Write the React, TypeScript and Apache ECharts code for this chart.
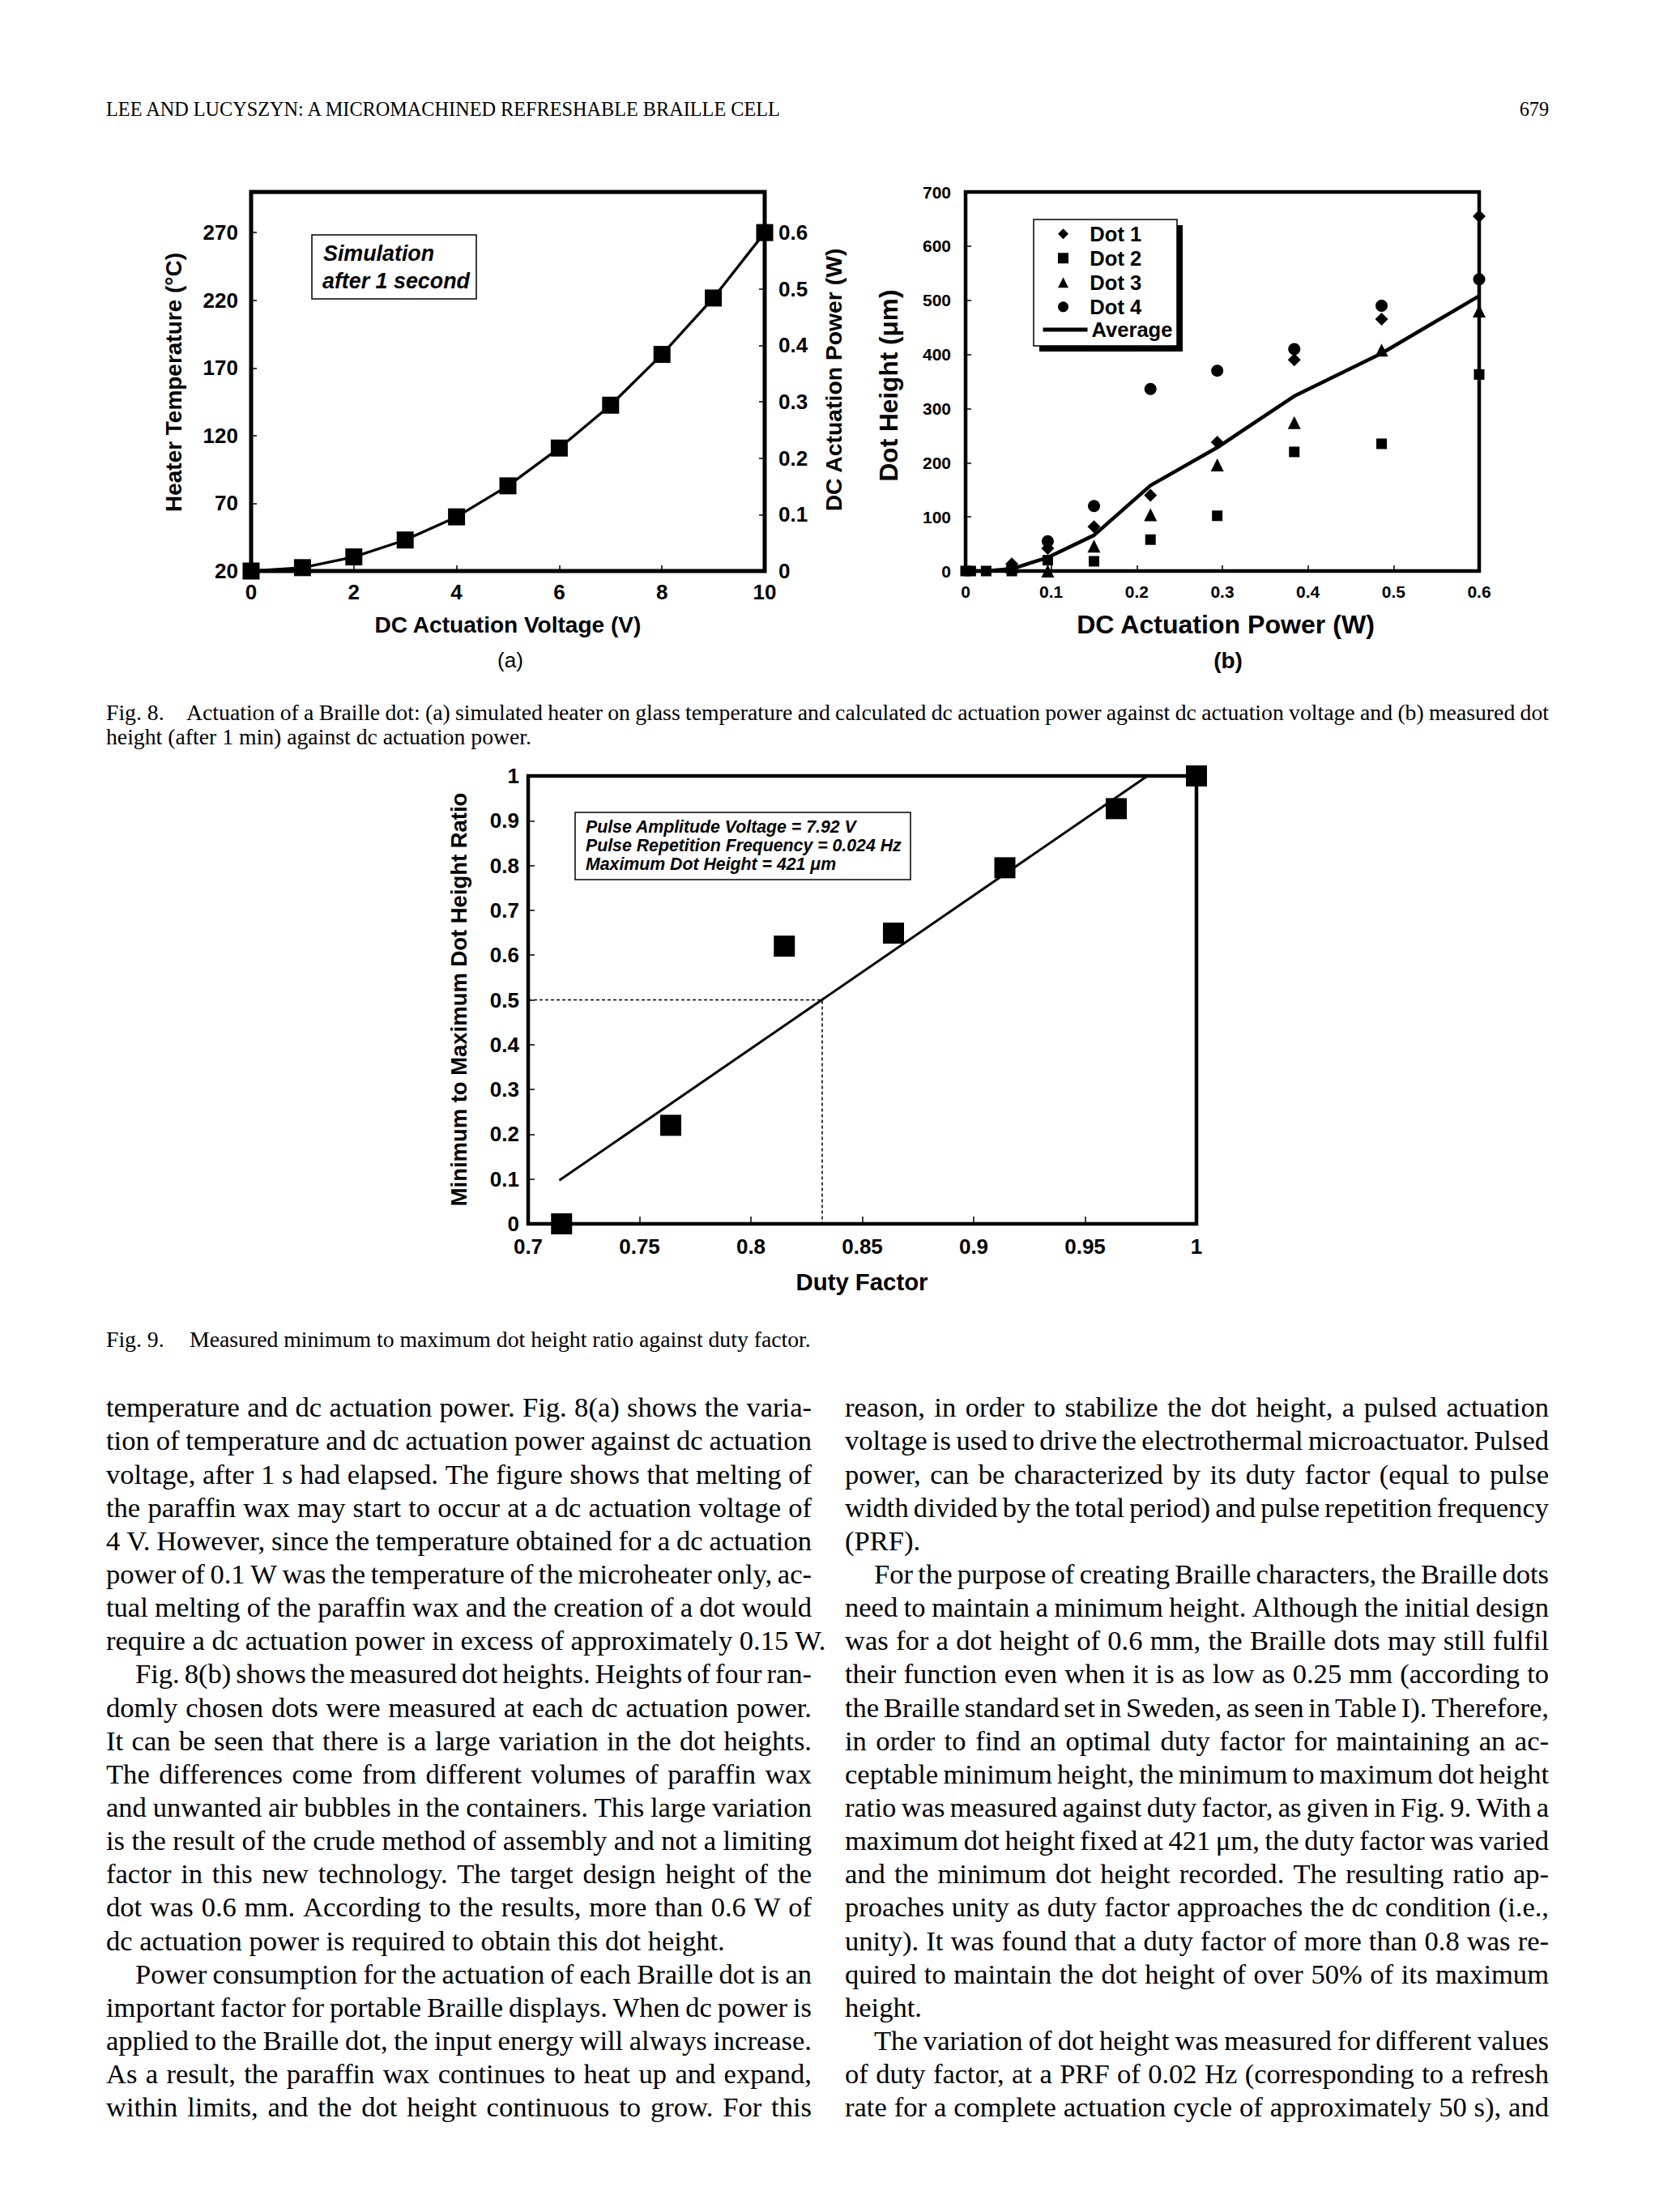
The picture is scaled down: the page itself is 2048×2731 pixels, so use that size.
import React, { useEffect, useRef } from 'react';
import * as echarts from 'echarts';

const SANS = '"Liberation Sans", Arial, Helvetica, sans-serif';
const SERIF = '"Liberation Serif", "Times New Roman", Times, serif';

// ---------- Fig. 8(a): simulated temperature / dc power vs dc voltage ----------
const voltageV = [0, 1, 2, 3, 4, 5, 6, 7, 8, 9, 10];
const powerW = [0, 0.006, 0.025, 0.055, 0.096, 0.151, 0.218, 0.294, 0.384, 0.484, 0.6];
const tempTicks = [20, 70, 120, 170, 220, 270];
const tempAxisRange = [20, 300];
const powerTicks = [0, 0.1, 0.2, 0.3, 0.4, 0.5, 0.6];
const powerAxisRange = [0, 0.672];

// ---------- Fig. 8(b): measured dot height vs dc power ----------
const dotPowerW = [0, 0.006, 0.024, 0.054, 0.096, 0.15, 0.216, 0.294, 0.384, 0.486, 0.6];
const dot1 = [null, null, null, 13, 42, 82, 140, 238, 390, 465, 655];
const dot2 = [0, 0, 0, 0, 20, 18, 58, 102, 220, 235, 363];
const dot3 = [null, null, null, 8, 0, 46, 104, 196, 274, 408, 480];
const dot4 = [null, null, null, 5, 55, 120, 336, 370, 410, 490, 539];
const dotAverage = [0, 0, 0, 4, 25, 66, 158, 228, 323, 402, 508];
const dotNames = ['Dot 1', 'Dot 2', 'Dot 3', 'Dot 4'];

// ---------- Fig. 9: min/max dot height ratio vs duty factor ----------
const dutyFactor = [0.715, 0.764, 0.815, 0.864, 0.914, 0.964, 1.0];
const heightRatio = [0, 0.22, 0.62, 0.649, 0.795, 0.927, 1.0];
const fitLineDuty = [0.714, 0.978];
const fitLineRatio = [0.097, 1.0];
const halfRatioDuty = 0.832;

// ---------- page text ----------
const headerTitle = 'LEE AND LUCYSZYN: A MICROMACHINED REFRESHABLE BRAILLE CELL';
const pageNumber = '679';
const fig8Label = 'Fig. 8.';
const fig8Caption = [
  'Actuation of a Braille dot: (a) simulated heater on glass temperature and calculated dc actuation power against dc actuation voltage and (b) measured dot',
  'height (after 1 min) against dc actuation power.',
];
const fig9Label = 'Fig. 9.';
const fig9Caption = 'Measured minimum to maximum dot height ratio against duty factor.';

// mode: 0 justified, 1 indented + justified, 2 ragged (paragraph end)
const leftColumn: [string, number][] = [
  ['temperature and dc actuation power. Fig. 8(a) shows the varia-', 0],
  ['tion of temperature and dc actuation power against dc actuation', 0],
  ['voltage, after 1 s had elapsed. The figure shows that melting of', 0],
  ['the paraffin wax may start to occur at a dc actuation voltage of', 0],
  ['4 V. However, since the temperature obtained for a dc actuation', 0],
  ['power of 0.1 W was the temperature of the microheater only, ac-', 0],
  ['tual melting of the paraffin wax and the creation of a dot would', 0],
  ['require a dc actuation power in excess of approximately 0.15 W.', 2],
  ['Fig. 8(b) shows the measured dot heights. Heights of four ran-', 1],
  ['domly chosen dots were measured at each dc actuation power.', 0],
  ['It can be seen that there is a large variation in the dot heights.', 0],
  ['The differences come from different volumes of paraffin wax', 0],
  ['and unwanted air bubbles in the containers. This large variation', 0],
  ['is the result of the crude method of assembly and not a limiting', 0],
  ['factor in this new technology. The target design height of the', 0],
  ['dot was 0.6 mm. According to the results, more than 0.6 W of', 0],
  ['dc actuation power is required to obtain this dot height.', 2],
  ['Power consumption for the actuation of each Braille dot is an', 1],
  ['important factor for portable Braille displays. When dc power is', 0],
  ['applied to the Braille dot, the input energy will always increase.', 0],
  ['As a result, the paraffin wax continues to heat up and expand,', 0],
  ['within limits, and the dot height continuous to grow. For this', 0],
];
const rightColumn: [string, number][] = [
  ['reason, in order to stabilize the dot height, a pulsed actuation', 0],
  ['voltage is used to drive the electrothermal microactuator. Pulsed', 0],
  ['power, can be characterized by its duty factor (equal to pulse', 0],
  ['width divided by the total period) and pulse repetition frequency', 0],
  ['(PRF).', 2],
  ['For the purpose of creating Braille characters, the Braille dots', 1],
  ['need to maintain a minimum height. Although the initial design', 0],
  ['was for a dot height of 0.6 mm, the Braille dots may still fulfil', 0],
  ['their function even when it is as low as 0.25 mm (according to', 0],
  ['the Braille standard set in Sweden, as seen in Table I). Therefore,', 0],
  ['in order to find an optimal duty factor for maintaining an ac-', 0],
  ['ceptable minimum height, the minimum to maximum dot height', 0],
  ['ratio was measured against duty factor, as given in Fig. 9. With a', 0],
  ['maximum dot height fixed at 421 μm, the duty factor was varied', 0],
  ['and the minimum dot height recorded. The resulting ratio ap-', 0],
  ['proaches unity as duty factor approaches the dc condition (i.e.,', 0],
  ['unity). It was found that a duty factor of more than 0.8 was re-', 0],
  ['quired to maintain the dot height of over 50% of its maximum', 0],
  ['height.', 2],
  ['The variation of dot height was measured for different values', 1],
  ['of duty factor, at a PRF of 0.02 Hz (corresponding to a refresh', 0],
  ['rate for a complete actuation cycle of approximately 50 s), and', 0],
];

function zip(xs: number[], ys: (number | null)[]) {
  const out: number[][] = [];
  xs.forEach((x, i) => {
    const y = ys[i];
    if (y !== null && y !== undefined) out.push([x, y]);
  });
  return out;
}

const canvas = typeof document !== 'undefined' ? document.createElement('canvas') : null;
const ctx = canvas ? canvas.getContext('2d') : null;
function measure(t: string, size: number, family: string, weight = 'normal', fstyle = 'normal') {
  if (!ctx) return t.length * size * 0.5;
  ctx.font = `${fstyle} ${weight} ${size}px ${family}`;
  return ctx.measureText(t).width;
}
function fitSize(t: string, target: number, base: number, family: string, weight = 'normal', fstyle = 'normal') {
  const w = measure(t, base, family, weight, fstyle);
  const s = w > 0 ? (base * target) / w : base;
  return Math.max(base * 0.8, Math.min(base * 1.25, s));
}

const K_SERIF = 0.3375;

function serifText(text: string, x: number, baseline: number, size: number, align = 'left') {
  return {
    type: 'text',
    x,
    y: baseline - K_SERIF * size,
    z: 1,
    silent: true,
    style: {
      text,
      fontFamily: SERIF,
      fontSize: size,
      fill: '#000',
      textAlign: align,
      align,
      textVerticalAlign: 'middle',
      verticalAlign: 'middle',
    },
  };
}

function sansText(
  text: string,
  x: number,
  y: number,
  size: number,
  opts: { weight?: string; italic?: boolean; align?: string; rotate?: boolean; z?: number } = {}
) {
  const align = opts.align || 'center';
  return {
    type: 'text',
    x,
    y,
    z: opts.z ?? 6,
    rotation: opts.rotate ? Math.PI / 2 : 0,
    silent: true,
    style: {
      text,
      fontFamily: SANS,
      fontSize: size,
      fontWeight: opts.weight || 'bold',
      fontStyle: opts.italic ? 'italic' : 'normal',
      fill: '#000',
      textAlign: align,
      align,
      textVerticalAlign: 'middle',
      verticalAlign: 'middle',
    },
  };
}

function fittedTitle(text: string, x: number, y: number, width: number, base: number, rotate = false) {
  return sansText(text, x, y, fitSize(text, width, base, SANS, 'bold'), { rotate });
}

function justifiedLine(text: string, x0: number, x1: number, baseline: number, size: number) {
  const words = text.split(' ');
  const widths = words.map((w) => measure(w, size, SERIF));
  const total = widths.reduce((a, b) => a + b, 0);
  const gap = words.length > 1 ? (x1 - x0 - total) / (words.length - 1) : 0;
  const els: any[] = [];
  let x = x0;
  words.forEach((w, i) => {
    els.push(serifText(w, x, baseline, size));
    x += widths[i] + gap;
  });
  return els;
}

function columnText(lines: [string, number][], x0: number, x1: number, baseline0: number, step: number, size: number, indent: number) {
  const els: any[] = [];
  lines.forEach(([text, mode], i) => {
    const b = baseline0 + i * step;
    const xs = mode === 1 ? x0 + indent : x0;
    if (mode === 2) els.push(serifText(text, xs, b, size));
    else els.push(...justifiedLine(text, xs, x1, b, size));
  });
  return els;
}

function buildOption() {
  // calibrate font sizes from measured reference widths
  const bodyFs = fitSize('dc actuation power is required to obtain this dot height.', 764, 34, SERIF);
  const capFs = fitSize(fig9Caption, 767, 27, SERIF);
  const headFs = fitSize(headerTitle, 836, 24, SERIF);
  const noteFs = fitSize('Pulse Repetition Frequency = 0.024 Hz', 390, 20.5, SANS, 'bold', 'italic');
  const simFs = fitSize('after 1 second', 182, 27, SANS, 'bold', 'italic');
  const legendFs = fitSize('Average', 100, 25, SANS, 'bold');
  const rowStep = 29.6;
  const legendGap = Math.max(0, rowStep - legendFs);
  const legendTop = 288.5 - legendFs / 2;
  const nbsp = '\u00a0\u00a0\u00a0';

  const tick = { show: true, inside: true, length: 7, lineStyle: { color: '#000', width: 1.5 } };
  const label = (size: number, margin: number) => ({
    color: '#000',
    fontFamily: SANS,
    fontWeight: 'bold',
    fontSize: size,
    margin,
  });
  const noLine = { show: false };
  const noSplit = { show: false };
  const frame = (bw: number) => ({ show: true, borderColor: '#000', borderWidth: bw, backgroundColor: 'transparent' });
  const legendText = { color: '#000', fontFamily: SANS, fontWeight: 'bold', fontSize: legendFs };

  const graphics: any[] = [];

  // header
  graphics.push(serifText(headerTitle, 131, 143, headFs));
  graphics.push(serifText(pageNumber, 1912, 143, headFs, 'right'));

  // Fig. 8 caption
  graphics.push(serifText(fig8Label, 131, 889, capFs));
  graphics.push(...justifiedLine(fig8Caption[0], 230, 1912, 889, capFs));
  graphics.push(serifText(fig8Caption[1], 131, 919, capFs));

  // Fig. 9 caption
  graphics.push(serifText(fig9Label, 131, 1663, capFs));
  graphics.push(serifText(fig9Caption, 234, 1663, capFs));

  // body columns
  graphics.push(...columnText(leftColumn, 131, 1002, 1749, 41.14, bodyFs, 36));
  graphics.push(...columnText(rightColumn, 1043, 1912, 1749, 41.14, bodyFs, 36));

  // Fig 8(a) axis titles, note box
  graphics.push(fittedTitle('Heater Temperature (°C)', 214, 472, 320, 27, true));
  graphics.push(fittedTitle('DC Actuation Power (W)', 1029, 469, 326, 27, true));
  graphics.push(fittedTitle('DC Actuation Voltage (V)', 627, 771, 330, 27));
  graphics.push(sansText('(a)', 630, 815, 26, { weight: 'normal' }));
  graphics.push({
    type: 'rect', z: 5, silent: true,
    shape: { x: 385, y: 290, width: 203, height: 79 },
    style: { fill: '#fff', stroke: '#000', lineWidth: 1.5 },
  });
  graphics.push(sansText('Simulation', 399, 313, simFs, { italic: true, align: 'left' }));
  graphics.push(sansText('after 1 second', 398, 347, simFs, { italic: true, align: 'left' }));

  // Fig 8(b) axis titles, legend box
  graphics.push(fittedTitle('Dot Height (μm)', 1097, 476, 237, 31, true));
  graphics.push(fittedTitle('DC Actuation Power (W)', 1513, 771, 369, 31));
  graphics.push(sansText('(b)', 1516, 815, 28));
  graphics.push({
    type: 'rect', z: 4, silent: true,
    shape: { x: 1283, y: 278, width: 177, height: 156 },
    style: { fill: '#000', stroke: null },
  });
  graphics.push({
    type: 'rect', z: 5, silent: true,
    shape: { x: 1276, y: 271, width: 177, height: 156 },
    style: { fill: '#fff', stroke: '#000', lineWidth: 1.5 },
  });

  // Fig 9 axis titles, note box
  graphics.push(fittedTitle('Minimum to Maximum Dot Height Ratio', 566, 1234, 511, 27, true));
  graphics.push(fittedTitle('Duty Factor', 1064, 1582, 163, 29));
  graphics.push({
    type: 'rect', z: 5, silent: true,
    shape: { x: 710, y: 1003, width: 414, height: 83 },
    style: { fill: '#fff', stroke: '#000', lineWidth: 1.5 },
  });
  graphics.push(sansText('Pulse Amplitude Voltage = 7.92 V', 723, 1021, noteFs, { italic: true, align: 'left' }));
  graphics.push(sansText('Pulse Repetition Frequency = 0.024 Hz', 723, 1044, noteFs, { italic: true, align: 'left' }));
  graphics.push(sansText('Maximum Dot Height = 421 μm', 723, 1067, noteFs, { italic: true, align: 'left' }));

  const black = { color: '#000', opacity: 1 };

  return {
    animation: false,
    backgroundColor: '#fff',
    textStyle: { fontFamily: SANS },
    grid: [
      { left: 310, top: 237, width: 634, height: 468, ...frame(5) },
      { left: 1192, top: 237, width: 634, height: 468, ...frame(4.5) },
      { left: 652, top: 958, width: 825, height: 553, ...frame(4.5) },
    ],
    xAxis: [
      {
        type: 'value', gridIndex: 0, min: 0, max: 10, interval: 2,
        axisLine: noLine, splitLine: noSplit, axisTick: tick, axisLabel: label(26, 13),
      },
      {
        type: 'value', gridIndex: 1, min: 0, max: 0.6, interval: 0.1,
        axisLine: noLine, splitLine: noSplit, axisTick: tick, axisLabel: label(21, 15),
      },
      {
        type: 'value', gridIndex: 2, min: 0.7, max: 1, interval: 0.05,
        axisLine: noLine, splitLine: noSplit, axisTick: { ...tick, length: 9 }, axisLabel: label(26, 15),
      },
    ],
    yAxis: [
      {
        type: 'value', gridIndex: 0, position: 'left', min: tempAxisRange[0], max: tempAxisRange[1],
        axisLine: noLine, splitLine: noSplit,
        axisTick: { ...tick, customValues: tempTicks },
        axisLabel: { ...label(26, 16), customValues: tempTicks },
      },
      {
        type: 'value', gridIndex: 0, position: 'right', min: powerAxisRange[0], max: powerAxisRange[1],
        axisLine: noLine, splitLine: noSplit,
        axisTick: { ...tick, customValues: powerTicks },
        axisLabel: { ...label(26, 17), customValues: powerTicks },
      },
      {
        type: 'value', gridIndex: 1, min: 0, max: 700, interval: 100,
        axisLine: noLine, splitLine: noSplit, axisTick: tick, axisLabel: label(21, 18),
      },
      {
        type: 'value', gridIndex: 2, min: 0, max: 1, interval: 0.1,
        axisLine: noLine, splitLine: noSplit, axisTick: { ...tick, length: 8 }, axisLabel: label(26, 11),
      },
    ],
    legend: [
      {
        data: dotNames,
        orient: 'vertical',
        left: 1306,
        top: legendTop,
        padding: 0,
        itemGap: legendGap,
        itemWidth: 13,
        itemHeight: 13,
        selectedMode: false,
        z: 10,
        formatter: (name: string) => nbsp + name,
        textStyle: legendText,
      },
      {
        data: [{ name: 'Average', itemStyle: { opacity: 0 }, lineStyle: { width: 5, color: '#000' } }],
        orient: 'vertical',
        left: 1285,
        top: legendTop + 4 * rowStep,
        padding: 0,
        itemWidth: 55,
        itemHeight: 13,
        selectedMode: false,
        z: 10,
        textStyle: legendText,
      },
    ],
    graphic: { elements: graphics },
    series: [
      {
        name: 'Heater temperature / dc power', type: 'line', xAxisIndex: 0, yAxisIndex: 1,
        data: zip(voltageV, powerW), symbol: 'rect', symbolSize: 21, clip: false,
        lineStyle: { color: '#000', width: 3.3 }, itemStyle: black,
      },
      {
        name: dotNames[0], type: 'scatter', xAxisIndex: 1, yAxisIndex: 2, data: zip(dotPowerW, dot1),
        symbol: 'diamond', symbolSize: 16, clip: false, itemStyle: black,
      },
      {
        name: dotNames[1], type: 'scatter', xAxisIndex: 1, yAxisIndex: 2, data: zip(dotPowerW, dot2),
        symbol: 'rect', symbolSize: 13, clip: false, itemStyle: black,
      },
      {
        name: dotNames[2], type: 'scatter', xAxisIndex: 1, yAxisIndex: 2, data: zip(dotPowerW, dot3),
        symbol: 'triangle', symbolSize: 16, clip: false, itemStyle: black,
      },
      {
        name: dotNames[3], type: 'scatter', xAxisIndex: 1, yAxisIndex: 2, data: zip(dotPowerW, dot4),
        symbol: 'circle', symbolSize: 15, clip: false, itemStyle: black,
      },
      {
        name: 'Average', type: 'line', xAxisIndex: 1, yAxisIndex: 2, data: zip(dotPowerW, dotAverage),
        symbol: 'none', clip: false, lineStyle: { color: '#000', width: 4.5 }, itemStyle: { color: '#000' },
      },
      {
        name: 'Linear fit', type: 'line', xAxisIndex: 2, yAxisIndex: 3, data: zip(fitLineDuty, fitLineRatio),
        symbol: 'none', clip: false, lineStyle: { color: '#000', width: 3 },
      },
      {
        name: '50% guide', type: 'line', xAxisIndex: 2, yAxisIndex: 3,
        data: [[0.7, 0.5], [halfRatioDuty, 0.5], [halfRatioDuty, 0]],
        symbol: 'none', clip: false, lineStyle: { color: '#000', width: 1.5, type: [4, 3] },
      },
      {
        name: 'Min/max ratio', type: 'scatter', xAxisIndex: 2, yAxisIndex: 3, data: zip(dutyFactor, heightRatio),
        symbol: 'rect', symbolSize: 26, clip: false, itemStyle: black,
      },
    ],
  };
}

export default function App() {
  const ref = useRef<HTMLDivElement>(null);
  useEffect(() => {
    document.body.style.margin = '0';
    const chart = echarts.init(ref.current!, undefined, { renderer: 'svg', width: 2048, height: 2731 });
    chart.setOption(buildOption() as any);
    return () => chart.dispose();
  }, []);
  return (
    <div
      ref={ref}
      style={{ position: 'absolute', left: 0, top: 0, width: 2048, height: 2731, background: '#fff' }}
    />
  );
}
